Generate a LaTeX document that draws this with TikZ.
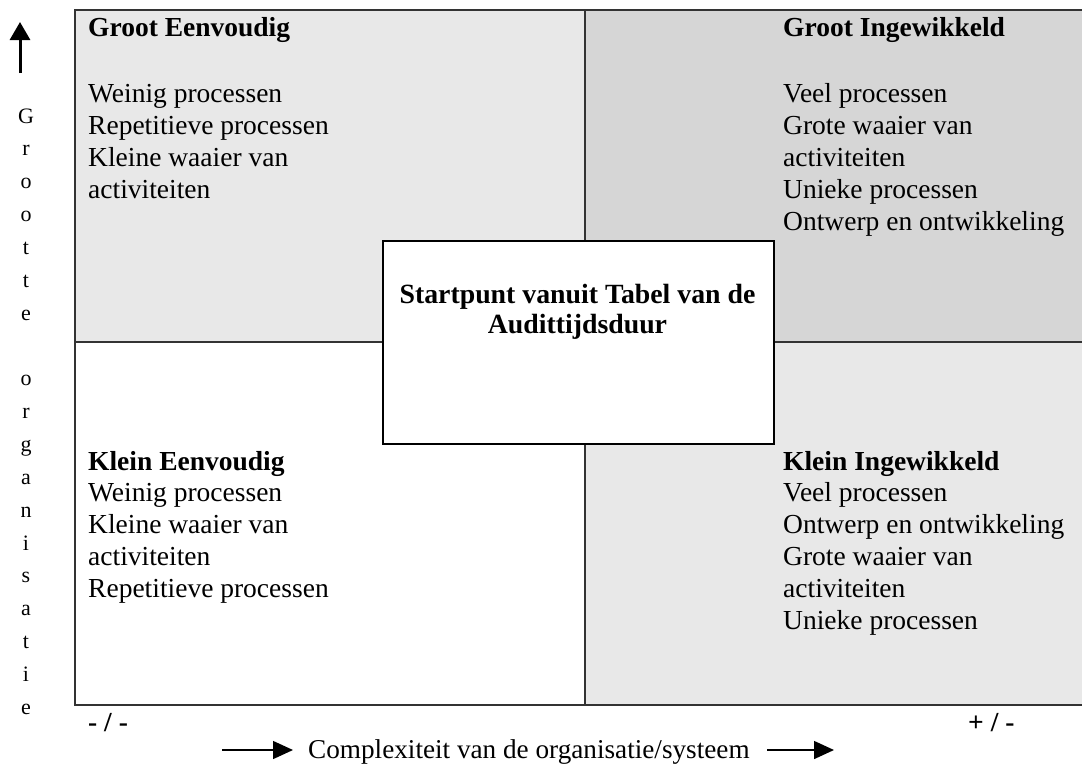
\documentclass[tikz,border=0pt]{standalone}
\usepackage{fontspec}
\setmainfont{Liberation Serif}
\usetikzlibrary{arrows.meta}
\definecolor{lg}{HTML}{E8E8E8}
\definecolor{mg}{HTML}{D6D6D6}
\definecolor{ln}{HTML}{333333}
\begin{document}
\begin{tikzpicture}[x=1pt,y=-1pt,
  txt/.style={anchor=base west,inner sep=0pt,font=\fontsize{27.5}{32}\selectfont},
  ttl/.style={anchor=base west,inner sep=0pt,font=\fontsize{27.5}{32}\selectfont\bfseries},
  ctr/.style={anchor=base,inner sep=0pt,font=\fontsize{27.8}{32}\selectfont\bfseries},
  vlet/.style={anchor=base,inner sep=0pt,font=\fontsize{22}{26}\selectfont},
  frame/.style={draw=ln,line width=1.8pt},
  divider/.style={draw=ln,line width=1.6pt},
  axarrow/.style={line width=1.5pt,-{Triangle[width=18pt,length=20pt]}}]
\useasboundingbox (0,0) rectangle (1082,769);
% quadrant fills
\fill[lg] (75,10) rectangle (585,342);
\fill[mg] (585,10) rectangle (1084,342);
\fill[white] (75,342) rectangle (585,705);
\fill[lg] (585,342) rectangle (1084,705);
% dividers
\draw[divider] (585,10) -- (585,705);
\draw[divider] (75,342) -- (1084,342);
% outer frame
\draw[frame] (1084,10) -- (75,10) -- (75,705) -- (1084,705);
% centre box
\node[draw=black,fill=white,line width=1.5pt,minimum width=391pt,minimum height=203pt,inner sep=0pt,anchor=north west] (centre) at (382,240) {};
\node[ctr] (c1) at (577.5,303) {Startpunt vanuit Tabel van de};
\node[ctr] (c2) at (577.5,333) {Audittijdsduur};
% top-left
\node[ttl] (tlh) at (88,36) {Groot Eenvoudig};
\foreach \t [count=\i] in {Weinig processen, Repetitieve processen, Kleine waaier van, activiteiten}
  \node[txt] (tl\i) at (88,{102+32*(\i-1)}) {\t};
% top-right
\node[ttl] (trh) at (783,36) {Groot Ingewikkeld};
\foreach \t [count=\i] in {Veel processen, Grote waaier van, activiteiten, Unieke processen, Ontwerp en ontwikkeling}
  \node[txt] (tr\i) at (783,{102+32*(\i-1)}) {\t};
% bottom-left
\node[ttl] (blh) at (88,470) {Klein Eenvoudig};
\foreach \t [count=\i] in {Weinig processen, Kleine waaier van, activiteiten, Repetitieve processen}
  \node[txt] (bl\i) at (88,{501+32*(\i-1)}) {\t};
% bottom-right
\node[ttl] (brh) at (783,470) {Klein Ingewikkeld};
\foreach \t [count=\i] in {Veel processen, Ontwerp en ontwikkeling, Grote waaier van, activiteiten, Unieke processen}
  \node[txt] (br\i) at (783,{501+32*(\i-1)}) {\t};
% vertical axis
\coordinate (vaS) at (20,73);
\coordinate (vaE) at (20,22);
\draw[line width=3pt,-{Triangle[width=20pt,length=18pt]}] (vaS) -- (vaE);
\foreach \l [count=\k from 0] in {G,r,o,o,t,t,e,{},o,r,g,a,n,i,s,a,t,i,e}
  \node[vlet] (v\k) at (26,{123+32.85*\k}) {\l};
% horizontal axis
\node[ttl] (minus) at (88,731) {- / -};
\node[ttl] (plus) at (968,731) {+ / -};
\node[anchor=base west,inner sep=0pt,font=\fontsize{27.2}{32}\selectfont] (hlab) at (308,758) {Complexiteit van de organisatie/systeem};
\coordinate (h1S) at (222,750);
\coordinate (h1E) at (293,750);
\coordinate (h2S) at (767,750);
\coordinate (h2E) at (834,750);
\draw[axarrow] (h1S) -- (h1E);
\draw[axarrow] (h2S) -- (h2E);
\end{tikzpicture}
\end{document}
